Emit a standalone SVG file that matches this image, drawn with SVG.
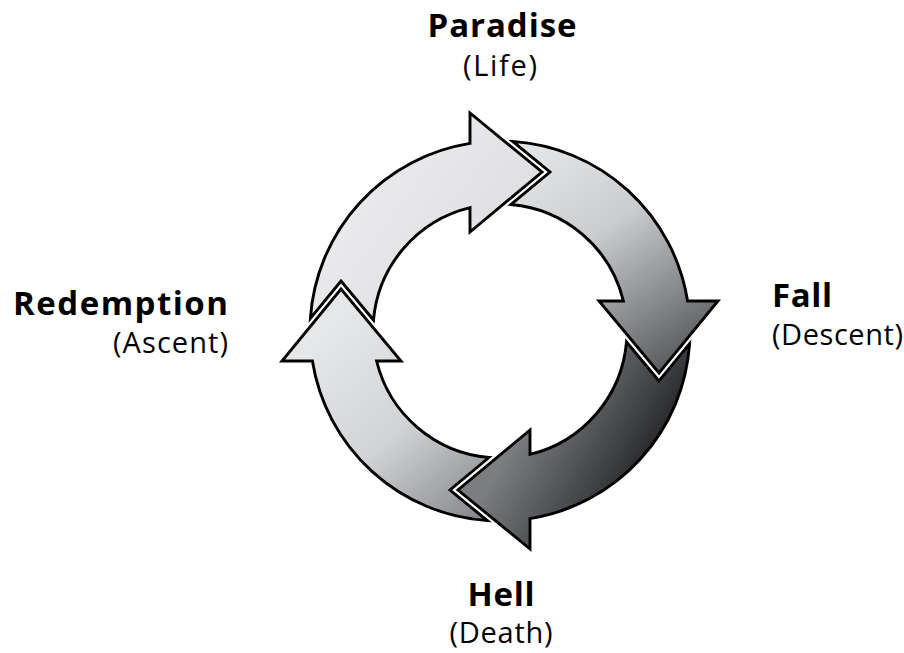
<svg xmlns="http://www.w3.org/2000/svg" width="904" height="653" viewBox="0 0 904 653">
<style>
.arrow{stroke:#000;stroke-width:2.9;stroke-linejoin:miter;stroke-miterlimit:10}
.t{font-family:"Open Sans","Liberation Sans",sans-serif;fill:#000}
.b{font-weight:bold;font-size:33px}
.s{font-size:29px}
</style>
<defs>
<linearGradient id="gTop" gradientUnits="userSpaceOnUse" x1="320" y1="150" x2="540" y2="310">
<stop offset="0" stop-color="#eeeef0"/><stop offset="1" stop-color="#d9dadd"/>
</linearGradient>
<linearGradient id="gRight" gradientUnits="userSpaceOnUse" x1="540" y1="150" x2="690" y2="370">
<stop offset="0" stop-color="#e3e4e6"/><stop offset="0.38" stop-color="#cbcccf"/><stop offset="1" stop-color="#505155"/>
</linearGradient>
<linearGradient id="gBottom" gradientUnits="userSpaceOnUse" x1="540" y1="400" x2="690" y2="490">
<stop offset="0" stop-color="#7c7d81"/><stop offset="0.55" stop-color="#3c3d40"/><stop offset="1" stop-color="#000"/>
</linearGradient>
<linearGradient id="gLeft" gradientUnits="userSpaceOnUse" x1="330" y1="330" x2="490" y2="510">
<stop offset="0" stop-color="#e6e7e9"/><stop offset="0.5" stop-color="#d2d3d6"/><stop offset="1" stop-color="#86878b"/>
</linearGradient>
</defs>
<g id="connectors">
<path id="arrow-top" class="arrow" fill="url(#gTop)" d="M310.4,318.3 A190,190 0 0 1 470,143.4 L470,113 L542,172 L470,232 L470,207.6 A127,127 0 0 0 373.5,320 L341,281 Z"/>
<path id="arrow-right" class="arrow" fill="url(#gRight)" d="M512.7,141.4 A190,190 0 0 1 687.6,301 L718,301 L659,373 L599,301 L623.4,301 A127,127 0 0 0 511,204.5 L550,172 Z"/>
<path id="arrow-bottom" class="arrow" fill="url(#gBottom)" d="M689.6,343.7 A190,190 0 0 1 530,518.6 L530,549 L458,490 L530,430 L530,454.4 A127,127 0 0 0 626.5,342 L659,381 Z"/>
<path id="arrow-left" class="arrow" fill="url(#gLeft)" d="M487.3,520.6 A190,190 0 0 1 312.4,361 L282,361 L341,289 L401,361 L376.6,361 A127,127 0 0 0 489,457.5 L450,490 Z"/>
</g>
<g id="paradise">
<text class="t b" x="502" y="37" text-anchor="middle" textLength="149">Paradise</text>
<text class="t s" x="500" y="76" text-anchor="middle" textLength="74">(Life)</text>
</g>
<g id="fall">
<text class="t b" x="772" y="307" textLength="60">Fall</text>
<text class="t s" x="772" y="345" textLength="131">(Descent)</text>
</g>
<g id="hell">
<text class="t b" x="501" y="606" text-anchor="middle" textLength="67">Hell</text>
<text class="t s" x="501" y="643" text-anchor="middle" textLength="103">(Death)</text>
</g>
<g id="redemption">
<text class="t b" x="228" y="315" text-anchor="end" textLength="215">Redemption</text>
<text class="t s" x="228" y="353" text-anchor="end" textLength="115">(Ascent)</text>
</g>
</svg>
